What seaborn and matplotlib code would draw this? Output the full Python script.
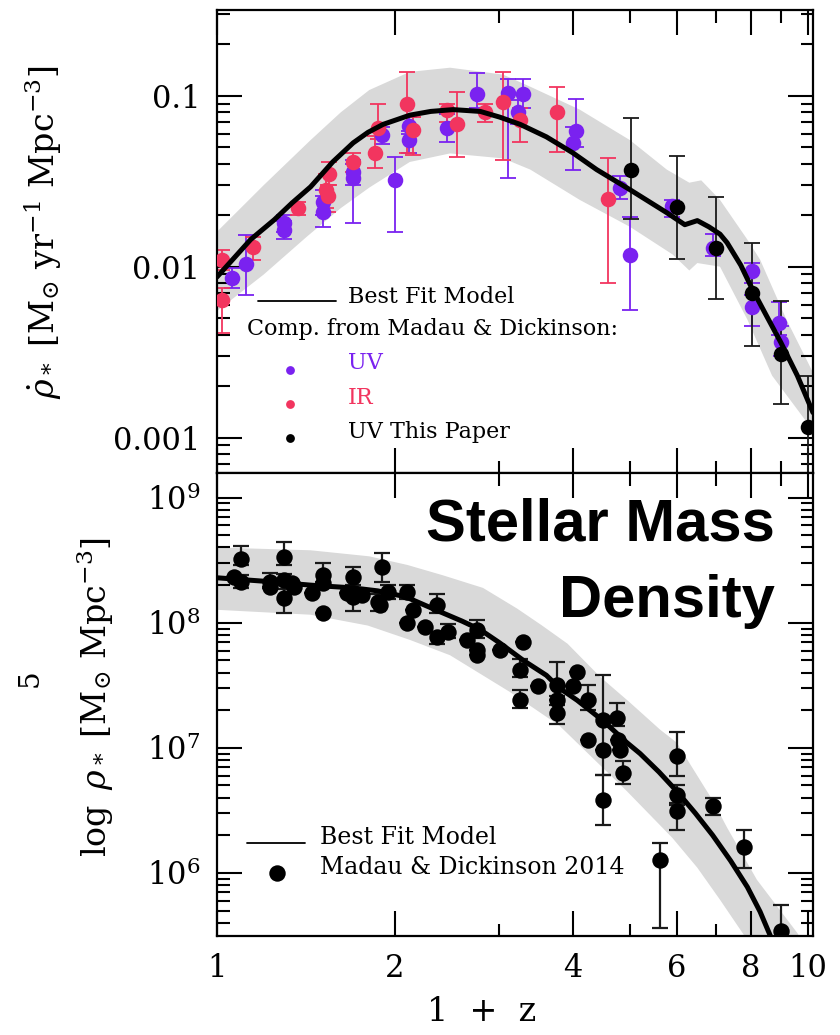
import numpy as np
import pandas as pd
import matplotlib
matplotlib.use("Agg")
import matplotlib.pyplot as plt
import matplotlib.ticker as mticker
import seaborn as sns

# -------------------------------
# Star formation rate density (top)
# -------------------------------
uv_x = [1.06, 1.12, 1.30, 1.30, 1.51, 1.51, 1.70, 1.70, 2.00, 1.90, 2.11, 2.11, 2.45, 2.75,
        3.11, 3.23, 3.29, 4.05, 4.00, 4.80, 5.00, 5.89, 6.90, 8.05, 8.05, 8.95, 9.00]
uv_y = [0.0086, 0.0103, 0.018, 0.0164, 0.024, 0.021, 0.036, 0.033, 0.032, 0.059, 0.067, 0.055,
        0.065, 0.103, 0.104, 0.080, 0.103, 0.062, 0.053, 0.029, 0.0117, 0.0225, 0.0129,
        0.0094, 0.0058, 0.0047, 0.0036]
uv_lo = [0.0075, 0.0068, 0.016, 0.0145, 0.020, 0.017, 0.030, 0.018, 0.016, 0.052, 0.060, 0.046,
         0.054, 0.085, 0.033, 0.068, 0.085, 0.050, 0.037, 0.025, 0.0056, 0.0196, 0.0115,
         0.0080, 0.0045, 0.0040, 0.0030]
uv_hi = [0.0098, 0.0154, 0.020, 0.0185, 0.028, 0.026, 0.042, 0.040, 0.044, 0.066, 0.075, 0.062,
         0.078, 0.136, 0.126, 0.094, 0.126, 0.096, 0.066, 0.034, 0.0196, 0.0246, 0.0155,
         0.0105, 0.0068, 0.0062, 0.0045]

ir_x = [1.02, 1.02, 1.15, 1.37, 1.55, 1.53, 1.54, 1.70, 1.85, 1.87, 2.10, 2.15, 2.45, 2.55,
        2.84, 3.05, 3.26, 3.76, 4.59]
ir_y = [0.011, 0.0064, 0.013, 0.022, 0.035, 0.028, 0.026, 0.041, 0.046, 0.065, 0.090, 0.063,
        0.083, 0.068, 0.080, 0.092, 0.072, 0.080, 0.025]
ir_lo = [0.0095, 0.0041, 0.011, 0.020, 0.030, 0.022, 0.021, 0.036, 0.038, 0.056, 0.046, 0.045,
         0.070, 0.044, 0.070, 0.042, 0.054, 0.047, 0.008]
ir_hi = [0.0125, 0.0075, 0.015, 0.024, 0.041, 0.035, 0.030, 0.046, 0.058, 0.090, 0.138, 0.075,
         0.090, 0.105, 0.090, 0.138, 0.085, 0.113, 0.043]

new_x = [5.02, 6.0, 7.0, 8.05, 9.0, 10.0]
new_y = [0.037, 0.0222, 0.0129, 0.0070, 0.0031, 0.00116]
new_lo = [0.019, 0.0111, 0.0065, 0.00345, 0.00158, 0.0006]
new_hi = [0.074, 0.0445, 0.0257, 0.0138, 0.0063, 0.0023]

sfr_fit_x = [1.0, 1.14, 1.25, 1.34, 1.44, 1.57, 1.70, 1.80, 1.91, 2.12, 2.30, 2.51, 2.79,
             3.01, 3.26, 3.61, 4.0, 4.39, 5.0, 5.77, 6.19, 6.5, 6.8, 7.1, 7.3, 7.7, 8.05,
             8.5, 9.0, 9.6, 10.2]
sfr_fit_y = [0.0087, 0.0144, 0.0188, 0.0236, 0.0293, 0.041, 0.053, 0.061, 0.068, 0.077,
             0.081, 0.083, 0.081, 0.075, 0.068, 0.0575, 0.0464, 0.037, 0.0282, 0.0207,
             0.0176, 0.0186, 0.0171, 0.0155, 0.0138, 0.0102, 0.0074, 0.0052, 0.0036,
             0.0023, 0.0014]

sfr_band_hi_x = [1.0, 1.2, 1.44, 1.62, 1.81, 2.12, 2.48, 3.05, 3.39, 4.11, 5.0, 5.77, 6.3,
                 6.6, 7.1, 7.9, 8.3, 9.2, 10.2]
sfr_band_hi_y = [0.016, 0.030, 0.055, 0.080, 0.108, 0.138, 0.146, 0.133, 0.113, 0.083, 0.055,
                 0.037, 0.031, 0.032, 0.0246, 0.0144, 0.011, 0.0049, 0.0024]
sfr_band_lo_x = [1.0, 1.2, 1.42, 1.62, 1.81, 2.12, 2.48, 3.05, 3.39, 4.11, 5.0, 5.9, 6.3,
                 6.5, 7.1, 7.9, 8.7, 10.2]
sfr_band_lo_y = [0.0055, 0.0090, 0.0150, 0.022, 0.029, 0.041, 0.046, 0.043, 0.037, 0.0246,
                 0.0171, 0.0118, 0.0095, 0.0105, 0.0100, 0.0049, 0.0023, 0.0011]

# -------------------------------
# Stellar mass density (bottom)
# -------------------------------
smd_x = [1.07, 1.10, 1.10, 1.23, 1.23, 1.30, 1.30, 1.34, 1.30, 1.35, 1.45, 1.51, 1.51, 1.51,
         1.66, 1.70, 1.70, 1.76, 1.90, 1.87, 1.95, 1.89, 2.10, 2.10, 2.15, 2.25, 2.36, 2.36,
         2.46, 2.65, 2.75, 2.75, 2.75, 3.01, 3.29, 3.26, 3.26, 3.49, 3.76, 3.76, 3.76, 4.07,
         4.00, 4.24, 4.50, 4.24, 4.50, 4.50, 4.75, 4.77, 4.80, 4.87, 5.62, 6.0, 6.0, 6.0,
         6.9, 7.8, 9.0]
smd_y = [2.33e8, 3.25e8, 2.13e8, 2.13e8, 1.94e8, 3.37e8, 2.2e8, 2.09e8, 1.58e8, 1.94e8,
         1.74e8, 2.42e8, 2.09e8, 1.2e8, 1.74e8, 2.33e8, 1.6e8, 1.67e8, 2.8e8, 1.47e8, 1.77e8,
         1.4e8, 1.77e8, 1.0e8, 1.27e8, 9.3e7, 1.39e8, 7.7e7, 8.5e7, 7.3e7, 8.8e7, 6.1e7,
         5.5e7, 6.1e7, 7.0e7, 4.2e7, 2.4e7, 3.1e7, 3.2e7, 2.4e7, 1.9e7, 4.06e7, 3.1e7, 2.4e7,
         1.68e7, 1.16e7, 9.6e6, 3.8e6, 1.74e7, 1.16e7, 9.6e6, 6.3e6, 1.27e6, 8.6e6, 4.2e6,
         3.1e6, 3.4e6, 1.6e6, 3.4e5]
smd_lo = [2.33e8, 2.9e8, 1.9e8, 1.9e8, 1.94e8, 2.9e8, 2.0e8, 2.09e8, 1.2e8, 1.94e8,
          1.74e8, 2.1e8, 2.09e8, 1.2e8, 1.74e8, 2.0e8, 1.24e8, 1.67e8, 2.1e8, 1.25e8, 1.55e8,
          1.4e8, 1.55e8, 1.0e8, 1.27e8, 9.3e7, 1.2e8, 6.8e7, 7.5e7, 7.3e7, 7.5e7, 6.1e7,
          5.5e7, 6.1e7, 7.0e7, 3.7e7, 2.1e7, 3.1e7, 2.6e7, 2.4e7, 1.55e7, 4.06e7, 3.1e7,
          2.0e7, 6.1e6, 1.16e7, 9.6e6, 2.4e6, 1.5e7, 1.16e7, 9.6e6, 5.1e6, 3.6e5, 6.0e6,
          3.5e6, 2.2e6, 2.9e6, 1.1e6, 2.5e5]
smd_hi = [2.33e8, 4.1e8, 2.4e8, 2.5e8, 1.94e8, 4.4e8, 2.45e8, 2.09e8, 1.85e8, 1.94e8,
          1.74e8, 3.0e8, 2.09e8, 1.2e8, 1.74e8, 2.8e8, 1.8e8, 1.67e8, 3.6e8, 1.7e8, 2.0e8,
          1.4e8, 2.0e8, 1.0e8, 1.27e8, 9.3e7, 1.7e8, 8.5e7, 9.8e7, 7.3e7, 1.06e8, 6.1e7,
          5.5e7, 6.1e7, 7.0e7, 5.1e7, 2.9e7, 3.1e7, 4.9e7, 2.4e7, 2.2e7, 4.06e7, 3.1e7,
          3.2e7, 3.8e7, 1.16e7, 9.6e6, 6.1e6, 2.3e7, 1.16e7, 9.6e6, 7.9e6, 1.72e6, 1.34e7,
          5.0e6, 3.6e6, 4.0e6, 2.2e6, 5.5e5]

smd_fit_x = [1.0, 1.2, 1.44, 1.70, 1.87, 2.04, 2.12, 2.25, 2.41, 2.60, 2.79, 3.01, 3.30,
             3.61, 3.80, 4.07, 4.50, 4.94, 5.2, 5.6, 6.0, 6.45, 6.9, 7.4, 7.9, 8.3, 8.6, 9.0]
smd_fit_y = [2.29e8, 2.15e8, 2.0e8, 1.9e8, 1.8e8, 1.65e8, 1.56e8, 1.38e8, 1.2e8, 1.03e8,
             8.8e7, 6.9e7, 5.0e7, 3.8e7, 3.0e7, 2.4e7, 1.65e7, 1.1e7, 9.0e6, 6.4e6, 4.5e6,
             3.0e6, 2.0e6, 1.25e6, 7.7e5, 4.9e5, 3.3e5, 2.0e5]

smd_band_hi_x = [1.0, 1.44, 1.81, 2.10, 2.41, 2.82, 3.22, 3.55, 3.92, 4.45, 5.0, 5.62, 6.0,
                 6.9, 7.3, 8.2, 9.6, 10.2]
smd_band_hi_y = [4.0e8, 3.8e8, 3.4e8, 2.9e8, 2.4e8, 1.9e8, 1.3e8, 9.5e7, 6.8e7, 3.7e7,
                 2.3e7, 1.4e7, 1.1e7, 3.8e6, 2.3e6, 8.8e5, 3.3e5, 2.0e5]
smd_band_lo_x = [1.0, 1.44, 1.80, 2.12, 2.48, 3.13, 3.8, 4.3, 4.94, 5.9, 6.5, 7.1, 7.9, 8.5]
smd_band_lo_y = [1.27e8, 1.16e8, 9.5e7, 7.3e7, 5.5e7, 2.8e7, 1.5e7, 8.5e6, 4.5e6, 1.9e6,
                 1.1e6, 6.1e5, 2.9e5, 1.5e5]

x_ticks = [1, 2, 4, 6, 8, 10]
x_minor = [3, 5, 7, 9]
x_labels = ["1", "2", "4", "6", "8", "10"]

UV_COL = "#7a22f0"
IR_COL = "#f2355f"
BAND = "#d9d9d9"

sns.set_style("ticks")
plt.rcParams["font.family"] = ["DejaVu Serif"]
plt.rcParams["mathtext.fontset"] = "dejavuserif"
for key in ["text.color", "axes.labelcolor", "xtick.color", "ytick.color", "axes.edgecolor"]:
    plt.rcParams[key] = "black"

fig = plt.figure(figsize=(8.4, 10.35), dpi=100)
ax1 = fig.add_axes([0.2583, 0.543, 0.7095, 0.4474])
ax2 = fig.add_axes([0.2583, 0.0957, 0.7095, 0.4474], sharex=ax1)


def band(ax, hx, hy, lx, ly):
    # polygon: upper edge left to right, lower edge back right to left
    px = list(hx) + list(lx)[::-1]
    py = list(hy) + list(ly)[::-1]
    ax.fill(px, py, color=BAND, lw=0, zorder=0)


def errs(ax, x, y, lo, hi, col, lw=1.3):
    y = np.array(y)
    yerr = [y - np.array(lo), np.array(hi) - y]
    ax.errorbar(x, y, yerr=yerr, fmt="none", ecolor=col, elinewidth=lw,
                capsize=5.5, capthick=lw, zorder=2)


# ---- top panel
band(ax1, sfr_band_hi_x, sfr_band_hi_y, sfr_band_lo_x, sfr_band_lo_y)
errs(ax1, uv_x, uv_y, uv_lo, uv_hi, UV_COL)
errs(ax1, ir_x, ir_y, ir_lo, ir_hi, IR_COL)
errs(ax1, new_x, new_y, new_lo, new_hi, "#1a1a1a")
sns.scatterplot(x=uv_x, y=uv_y, color=UV_COL, s=125, linewidth=0, ax=ax1, zorder=3)
sns.scatterplot(x=ir_x, y=ir_y, color=IR_COL, s=125, linewidth=0, ax=ax1, zorder=3)
sns.lineplot(x=sfr_fit_x, y=sfr_fit_y, color="black", lw=3.6, ax=ax1, zorder=4,
             sort=False, estimator=None)
sns.scatterplot(x=new_x, y=new_y, color="black", s=125, linewidth=0, ax=ax1, zorder=5)

# ---- bottom panel
band(ax2, smd_band_hi_x, smd_band_hi_y, smd_band_lo_x, smd_band_lo_y)
errs(ax2, smd_x, smd_y, smd_lo, smd_hi, "#1a1a1a", lw=1.6)
sns.lineplot(x=smd_fit_x, y=smd_fit_y, color="black", lw=3.6, ax=ax2, zorder=4,
             sort=False, estimator=None)
sns.scatterplot(x=smd_x, y=smd_y, color="black", s=140, linewidth=0, ax=ax2, zorder=5)

for ax in (ax1, ax2):
    ax.set_xscale("log")
    ax.set_yscale("log")
    ax.set_xlim(1, 10.2)
    ax.xaxis.set_major_locator(mticker.FixedLocator(x_ticks))
    ax.xaxis.set_minor_locator(mticker.FixedLocator(x_minor))
    ax.xaxis.set_major_formatter(mticker.FixedFormatter(x_labels))
    ax.xaxis.set_minor_formatter(mticker.NullFormatter())
    ax.yaxis.set_minor_locator(mticker.LogLocator(base=10, subs=np.arange(2, 10)))
    ax.yaxis.set_minor_formatter(mticker.NullFormatter())
    ax.tick_params(which="both", direction="in", top=True, right=True, width=1.5,
                   labelsize=22, pad=12)
    ax.tick_params(which="major", length=18)
    ax.tick_params(which="minor", length=9)
    for s in ax.spines.values():
        s.set_linewidth(1.6)
    ax.set_xlabel("")
    ax.set_ylabel("")

ax1.set_ylim(0.00062, 0.318)
ax1.yaxis.set_major_locator(mticker.FixedLocator([0.001, 0.01, 0.1]))
ax1.yaxis.set_major_formatter(mticker.FixedFormatter(["0.001", "0.01", "0.1"]))
ax1.tick_params(axis="x", labelbottom=False)

ax2.set_ylim(3.13e5, 1.58e9)
ax2.yaxis.set_major_locator(mticker.LogLocator(base=10))
ax2.yaxis.set_major_formatter(mticker.LogFormatterMathtext())

# ---- top legend (hand placed, as in the original)
ax1.plot([0.069, 0.200], [0.371, 0.371], color="black", lw=1.3, transform=ax1.transAxes)
ax1.text(0.220, 0.381, "Best Fit Model", fontsize=16, va="center", transform=ax1.transAxes)
ax1.text(0.050, 0.311, "Comp. from Madau & Dickinson:", fontsize=16, va="center",
         transform=ax1.transAxes)
for fy, col, lab, ty in [(0.222, UV_COL, "UV", 0.238), (0.149, IR_COL, "IR", 0.162),
                         (0.076, "black", "UV This Paper", 0.089)]:
    ax1.scatter([0.122], [fy], s=40, color=col, lw=0, transform=ax1.transAxes, zorder=6)
    ax1.text(0.220, ty, lab, fontsize=16, color=col, va="center", transform=ax1.transAxes)

# ---- bottom legend
ax2.plot([0.050, 0.148], [0.201, 0.201], color="black", lw=1.3, transform=ax2.transAxes)
ax2.text(0.173, 0.212, "Best Fit Model", fontsize=17, va="center", transform=ax2.transAxes)
ax2.scatter([0.101], [0.136], s=140, color="black", lw=0, transform=ax2.transAxes, zorder=6)
ax2.text(0.173, 0.147, "Madau & Dickinson 2014", fontsize=17, va="center",
         transform=ax2.transAxes)

ax2.text(0.936, 0.855, "Stellar Mass", fontsize=43, fontweight="bold",
         family=["Liberation Sans"], ha="right", va="baseline", transform=ax2.transAxes)
ax2.text(0.936, 0.689, "Density", fontsize=43, fontweight="bold",
         family=["Liberation Sans"], ha="right", va="baseline", transform=ax2.transAxes)

# ---- axis labels
fig.text(43 / 840, 1 - 232 / 1035,
         r"$\dot{\rho}_*\ [\mathrm{M}_{\odot}\ \mathrm{yr}^{-1}\ \mathrm{Mpc}^{-3}]$",
         rotation=90, ha="center", va="center", fontsize=24)
fig.text(95 / 840, 1 - 697 / 1035,
         r"$\log\ \rho_*\ [\mathrm{M}_{\odot}\ \mathrm{Mpc}^{-3}]$",
         rotation=90, ha="center", va="center", fontsize=24)
fig.text(482 / 840, 1 - 1012 / 1035, "1  +  z", ha="center", va="center", fontsize=24)
fig.text(30 / 840, 1 - 678 / 1035, "5", rotation=90, ha="center", va="center", fontsize=20)

fig.savefig("out.png", dpi=100)
